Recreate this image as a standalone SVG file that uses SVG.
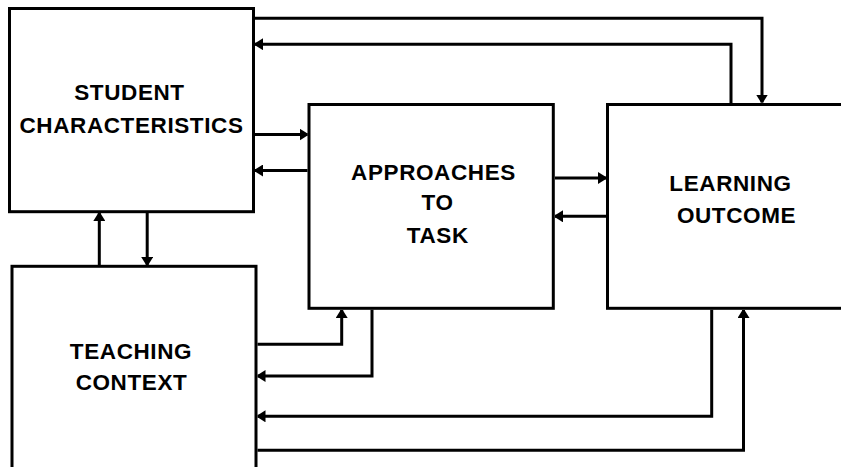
<svg xmlns="http://www.w3.org/2000/svg" width="841" height="467" viewBox="0 0 841 467">
<style>
.box{fill:#fff;stroke:#000;stroke-width:3}
.lbl{font-family:"Liberation Sans",Arial,sans-serif;font-weight:bold;font-size:22.5px;letter-spacing:0.6px;text-anchor:middle;fill:#000}
.con{fill:none;stroke:#000;stroke-width:3;marker-end:url(#ah)}
</style>
<defs>
<marker id="ah" markerUnits="userSpaceOnUse" viewBox="0 0 8 12" markerWidth="8" markerHeight="12" refX="8" refY="6" orient="auto">
<path d="M0,0 L8,5 L8,7 L0,12 Z" fill="#000"/>
</marker>
</defs>
<rect width="841" height="467" fill="#fff"/>
<g id="student">
<rect class="box" x="9.5" y="8.5" width="244" height="203.2"/>
<text class="lbl" x="129.5" y="100">STUDENT</text>
<text class="lbl" x="131.5" y="132.5">CHARACTERISTICS</text>
</g>
<g id="teaching">
<rect class="box" x="12" y="266.3" width="244" height="230"/>
<text class="lbl" x="131" y="358.5">TEACHING</text>
<text class="lbl" x="131.5" y="389.5">CONTEXT</text>
</g>
<g id="approaches">
<rect class="box" x="309" y="104.5" width="244.3" height="203.8"/>
<text class="lbl" x="433.5" y="179.5">APPROACHES</text>
<text class="lbl" x="437.5" y="209.5">TO</text>
<text class="lbl" x="437.8" y="243">TASK</text>
</g>
<g id="learning">
<rect class="box" x="607.5" y="104.5" width="260" height="203.8"/>
<text class="lbl" x="730.5" y="191">LEARNING</text>
<text class="lbl" x="736.5" y="223">OUTCOME</text>
</g>
<g id="connectors">
<path class="con" d="M255,18.2 H762 V102.5"/>
<path class="con" d="M731,103 V44.2 H255"/>
<path class="con" d="M255,134.5 H307.5"/>
<path class="con" d="M307.5,170.5 H255"/>
<path class="con" d="M555,178 H606"/>
<path class="con" d="M606,216.3 H555"/>
<path class="con" d="M99.3,265 V213"/>
<path class="con" d="M147.2,213 V265"/>
<path class="con" d="M257.5,344.2 H341.7 V310"/>
<path class="con" d="M372,309.8 V376 H257.5"/>
<path class="con" d="M711.7,309.8 V416.3 H257.5"/>
<path class="con" d="M257.5,450.2 H743.5 V310"/>
</g>
</svg>
